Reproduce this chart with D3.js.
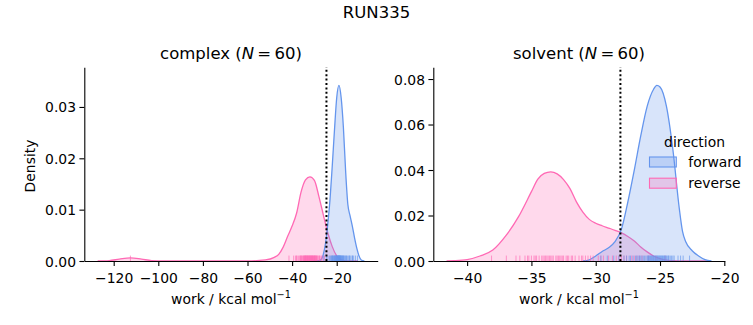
<!DOCTYPE html>
<html><head><meta charset="utf-8">
<script src="https://cdn.jsdelivr.net/npm/d3@7"></script>
<style>
body{margin:0;background:#fff}
svg{display:block;font-family:"DejaVu Sans",sans-serif}
</style>
</head><body>
<svg id="chart" width="753" height="325"></svg>
<script>
// ---------------- data ----------------
const suptitle = "RUN335";
const directions = ["forward", "reverse"];
const colors = {forward: "#6495ED", reverse: "#FF69B4"};

// complex panel: KDE curves (work in kcal/mol, density)
const complexForwardX = [-30.5,-28,-27,-26,-25,-24,-23,-22,-21,-20,-19,-18,-17,-16,-15,-14,-13,-12,-11,-10,-9,-7.6];
const complexForwardD = [0,0.00005,0.0003,0.0013,0.0035,0.0072,0.012,0.0185,0.0255,0.0318,0.0342,0.0318,0.026,0.0175,0.011,0.0088,0.0068,0.0045,0.0025,0.001,0.0002,0];
const complexReverseX = [-127.2,-122,-117.5,-112.5,-107.5,-103,-97.5,-80,-60,-52,-48,-46,-44,-42,-40,-38,-36,-34,-32,-30,-28,-26,-24,-22,-20,-18,-16,-10.5];
const complexReverseD = [0,0.00008,0.00036,0.0006,0.00036,0.00008,0,0,0,0.0002,0.0007,0.0013,0.0027,0.0048,0.0068,0.0093,0.0134,0.0158,0.0164,0.0157,0.0126,0.009,0.0055,0.0028,0.001,0.0002,0.00003,0];

// solvent panel: KDE curves
const solventForwardX = [-31,-30.5,-30,-29.5,-29,-28.5,-28,-27.5,-27,-26.5,-26,-25.5,-25.25,-25,-24.5,-24,-23.5,-23.25,-23,-22.5,-22,-21.5,-21];
const solventForwardD = [0,0.0005,0.0022,0.0042,0.0058,0.0085,0.014,0.026,0.040,0.055,0.068,0.0755,0.0772,0.0765,0.068,0.049,0.023,0.013,0.0085,0.0045,0.0022,0.0006,0];
const solventReverseX = [-41.6,-41,-40,-39,-38,-37,-36,-35,-34.5,-34,-33.5,-33,-32.5,-32,-31.5,-31,-30.5,-30,-29.5,-29,-28.5,-28,-27.5,-27,-26.5,-26,-25.5,-25,-24.5,-24,-22.5,-21.2];
const solventReverseD = [0,0.0001,0.0006,0.0022,0.0048,0.011,0.0195,0.0305,0.036,0.0385,0.0392,0.0383,0.0358,0.0318,0.026,0.0215,0.0183,0.0166,0.0155,0.0145,0.0135,0.0124,0.0108,0.0088,0.0062,0.004,0.0022,0.001,0.0004,0.0001,0.00002,0];

// rug values (individual work values)
const complexForwardRug = [-25.8,-24.6,-23.9,-23.2,-22.8,-22.4,-22.0,-21.7,-21.4,-21.1,-20.9,-20.6,-20.4,-20.2,-20.0,-19.8,-19.6,-19.4,-19.2,-19.0,-18.8,-18.6,-18.4,-18.2,-18.0,-17.8,-17.6,-17.3,-17.0,-16.7,-16.4,-16.0,-15.6,-15.1,-14.6,-14.1,-13.6,-13.0,-12.4,-11.6,-10.7,-19.1,-19.5,-20.3,-18.9,-18.5,-21.2,-19.9,-18.1,-17.4,-22.2,-20.7,-19.3,-18.7,-16.9,-15.8,-14.3,-12.9,-21.9,-20.1];
const complexReverseRug = [-112.5,-41.4,-39.3,-38.5,-37.8,-37.2,-36.6,-36.1,-35.7,-35.3,-34.9,-34.6,-34.3,-34.0,-33.7,-33.4,-33.2,-32.9,-32.7,-32.4,-32.2,-31.9,-31.7,-31.4,-31.2,-30.9,-30.7,-30.4,-30.2,-29.9,-29.6,-29.3,-29.0,-28.7,-28.3,-27.9,-27.4,-26.8,-26.2,-25.5,-33.9,-32.6,-31.3,-35.0,-30.0,-28.9,-36.3,-34.4,-33.1,-31.8,-30.6,-29.4,-32.1,-33.5,-27.7,-38.0,-35.9,-30.9,-29.8,-34.2];
const solventForwardRug = [-29.6,-29.1,-28.6,-28.2,-27.8,-27.4,-27.1,-26.8,-26.6,-26.4,-26.2,-26.0,-25.9,-25.8,-25.7,-25.6,-25.5,-25.4,-25.3,-25.2,-25.1,-25.0,-24.9,-24.8,-24.7,-24.6,-24.5,-24.4,-24.3,-24.1,-23.9,-23.6,-23.2,-22.7,-26.5,-26.1,-25.85,-25.55,-25.35,-25.15,-24.95,-24.75,-24.55,-24.35,-25.45,-25.25,-25.05,-24.85,-26.3,-25.65,-25.75,-27.6,-26.9,-24.2,-24.0,-23.4,-25.95,-24.65,-27.3,-26.7];
const solventReverseRug = [-38.1,-36.95,-36.2,-35.9,-35.5,-35.2,-35.0,-34.8,-34.6,-34.4,-34.2,-34.0,-33.9,-33.7,-33.5,-33.3,-33.1,-32.9,-32.7,-32.5,-32.3,-32.1,-31.9,-31.6,-31.3,-31.0,-30.6,-30.2,-29.8,-29.4,-29.0,-28.7,-28.4,-28.0,-27.6,-27.2,-26.8,-26.4,-25.9,-25.3,-24.6,-33.8,-33.0,-32.2,-34.1,-31.8,-30.4,-29.6,-28.2,-27.0,-35.3,-33.4,-32.6,-31.1,-27.8,-26.6,-33.6,-32.8,-34.7,-30.8];

// reference free-energy estimates (dotted lines)
const complexDG = -24.6;
const solventDG = -28.08;

// ticks
const complexXTicks = [-120,-100,-80,-60,-40,-20];
const complexYTicks = [0,0.01,0.02,0.03];
const solventXTicks = [-40,-35,-30,-25,-20];
const solventYTicks = [0,0.02,0.04,0.06,0.08];

const panelTitles = [{name:"complex", n:60},{name:"solvent", n:60}];

// ---------------- drawing ----------------
const svg = d3.select("#chart");
const FS = 13.9;

svg.append("text").attr("x", 376.5).attr("y", 17.5).attr("text-anchor","middle")
  .attr("font-size", 16.5).attr("fill","#000").text(suptitle);

function zip(xs, ds){ return xs.map((v,i)=>({x:v, d:ds[i]})); }

const panels = [
  {title: panelTitles[0], left:84.3, right:377.7, top:67.3, bottom:261,
   series:{forward: zip(complexForwardX, complexForwardD), reverse: zip(complexReverseX, complexReverseD)},
   rugs:{forward: complexForwardRug, reverse: complexReverseRug},
   dg: complexDG, xt: complexXTicks, yt: complexYTicks, yfmt: ".2f", ylabel: true},
  {title: panelTitles[1], left:433.3, right:724.7, top:67.3, bottom:261,
   series:{forward: zip(solventForwardX, solventForwardD), reverse: zip(solventReverseX, solventReverseD)},
   rugs:{forward: solventForwardRug, reverse: solventReverseRug},
   dg: solventDG, xt: solventXTicks, yt: solventYTicks, yfmt: ".2f", ylabel: false, legend: true}
];

panels.forEach(p => {
  const all = [...p.series.forward, ...p.series.reverse];
  const xmin = d3.min(all, d=>d.x), xmax = d3.max(all, d=>d.x);
  const pad = 0.05*(xmax-xmin);
  const x = d3.scaleLinear().domain([xmin-pad, xmax+pad]).range([p.left, p.right]);
  const ymax = d3.max(all, d=>d.d)*1.103;
  const y = d3.scaleLinear().domain([0, ymax]).range([p.bottom, p.top]);
  const g = svg.append("g");

  const area = d3.area().x(d=>x(d.x)).y0(y(0)).y1(d=>y(d.d)).curve(d3.curveMonotoneX);
  const line = d3.line().x(d=>x(d.x)).y(d=>y(d.d)).curve(d3.curveMonotoneX);

  ["reverse","forward"].forEach(k => {
    g.append("path").attr("d", area(p.series[k])).attr("fill", colors[k]).attr("fill-opacity", 0.25);
    g.append("path").attr("d", line(p.series[k])).attr("fill","none").attr("stroke", colors[k]).attr("stroke-width", 1.3);
  });

  // rug
  const rugH = 0.028*(p.bottom-p.top);
  ["reverse","forward"].forEach(k => {
    g.append("g").selectAll("line").data(p.rugs[k]).join("line")
      .attr("x1", d=>x(d)).attr("x2", d=>x(d))
      .attr("y1", p.bottom).attr("y2", p.bottom-rugH)
      .attr("stroke", colors[k]).attr("stroke-width", 1).attr("stroke-opacity", 0.65);
  });

  // dotted line
  g.append("line").attr("x1", x(p.dg)).attr("x2", x(p.dg)).attr("y1", p.bottom).attr("y2", p.top)
    .attr("stroke","#000").attr("stroke-width",2).attr("stroke-dasharray","2,2.4");

  // axes
  const xa = g.append("g").attr("transform", `translate(0,${p.bottom})`)
    .call(d3.axisBottom(x).tickValues(p.xt).tickSize(4.9).tickSizeOuter(0).tickFormat(d3.format("d")));
  xa.selectAll("text").attr("y", 21.6).attr("dy", 0).attr("font-size", FS).attr("fill","#000").attr("font-family","DejaVu Sans");
  const ya = g.append("g").attr("transform", `translate(${p.left},0)`)
    .call(d3.axisLeft(y).tickValues(p.yt).tickSize(4.9).tickSizeOuter(0).tickFormat(d3.format(p.yfmt)));
  ya.selectAll("text").attr("x", -8.3).attr("dy", "0.36em").attr("font-size", FS).attr("fill","#000").attr("font-family","DejaVu Sans");
  [xa, ya].forEach(a => {
    a.select(".domain").attr("stroke","#000").attr("stroke-width",1.1);
    a.selectAll(".tick line").attr("stroke","#000").attr("stroke-width",1.1);
  });

  // title
  const cx = (p.left+p.right)/2;
  const t = g.append("text").attr("x", cx).attr("y", 59).attr("text-anchor","middle").attr("font-size", 16.5).attr("fill","#000");
  t.append("tspan").text(p.title.name + " (");
  t.append("tspan").attr("font-style","italic").text("N");
  t.append("tspan").text("\u2009=\u2009" + p.title.n + ")");

  // x label
  const xl = g.append("text").attr("x", cx).attr("y", 304).attr("text-anchor","middle").attr("font-size", FS).attr("fill","#000");
  xl.append("tspan").text("work / kcal mol");
  xl.append("tspan").attr("dy", -6).attr("font-size", FS*0.7).text("\u22121");

  if (p.ylabel) {
    g.append("text").attr("transform", `translate(34.5,166) rotate(-90)`).attr("text-anchor","middle")
      .attr("font-size", FS).attr("fill","#000").text("Density");
  }

  if (p.legend) {
    const lg = svg.append("g");
    lg.append("text").attr("x", 694.5).attr("y", 146.5).attr("text-anchor","middle").attr("font-size", FS).attr("fill","#000").text("direction");
    directions.forEach((k,i) => {
      const yy = 157 + i*21.2;
      lg.append("rect").attr("x", 649.5).attr("y", yy).attr("width", 26.8).attr("height", 10)
        .attr("fill", colors[k]).attr("fill-opacity", 0.25).attr("stroke", colors[k]).attr("stroke-width", 1.1);
      lg.append("text").attr("x", 688.3).attr("y", yy+9.6).attr("font-size", FS).attr("fill","#000").text(k);
    });
  }
});
</script>
</body></html>
